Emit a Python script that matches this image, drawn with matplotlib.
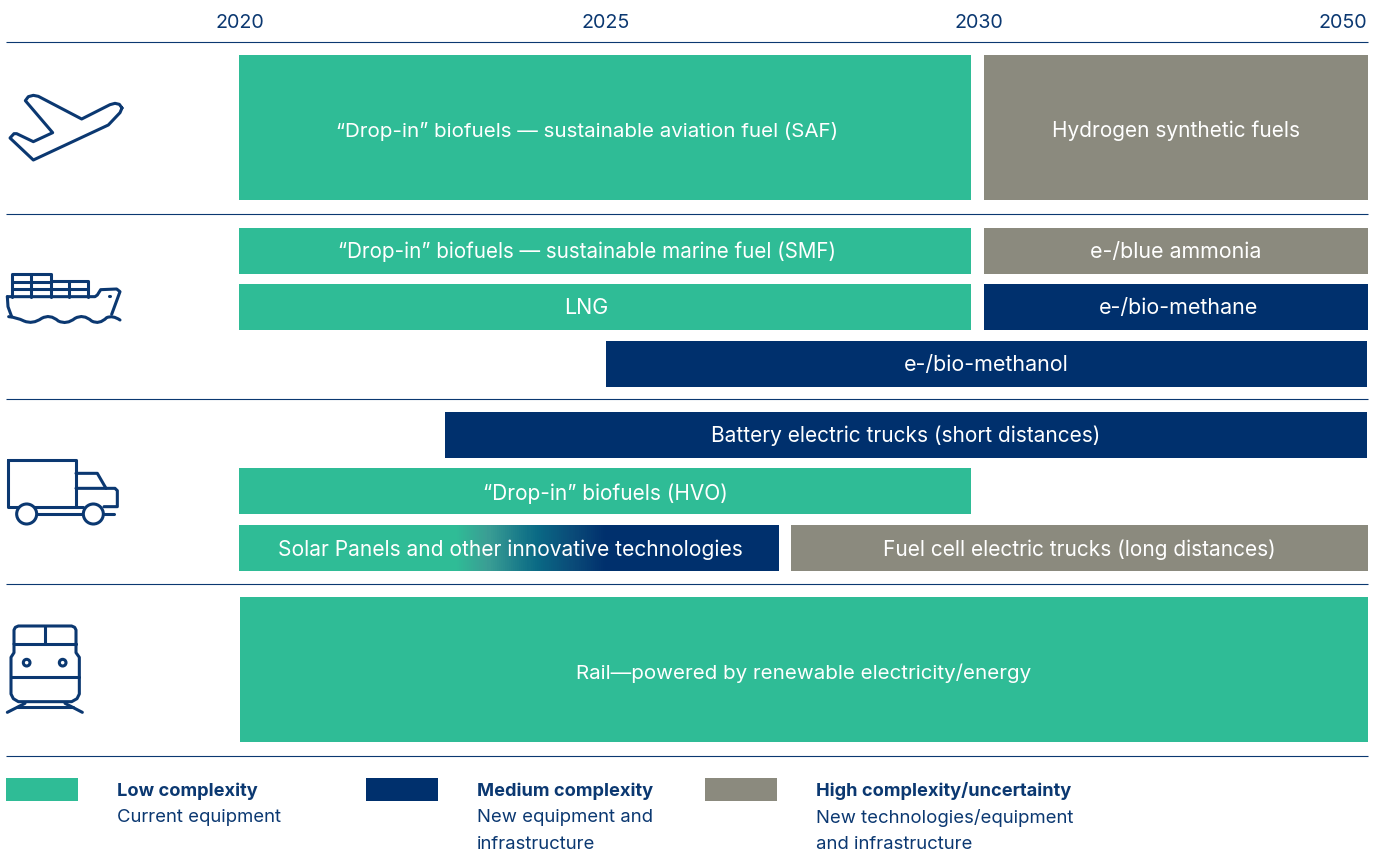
import numpy as np
import matplotlib
matplotlib.use("Agg")
import matplotlib.pyplot as plt
from matplotlib.colors import LinearSegmentedColormap
from matplotlib.patches import Circle, PathPatch
from matplotlib.path import Path
from matplotlib.transforms import ScaledTranslation

plt.rcParams['font.family'] = ['Inter', 'DejaVu Sans']

# ---------- data ----------
tick_years = [2020, 2025, 2030, 2050]
labels = ['“Drop-in” biofuels — sustainable aviation fuel (SAF)', 'Hydrogen synthetic fuels',
          '“Drop-in” biofuels — sustainable marine fuel (SMF)', 'e-/blue ammonia',
          'LNG', 'e-/bio-methane', 'e-/bio-methanol',
          'Battery electric trucks (short distances)', '“Drop-in” biofuels (HVO)',
          'Solar Panels and other innovative technologies', 'Fuel cell electric trucks (long distances)',
          'Rail—powered by renewable electricity/energy']
starts = [2020, 2030.65, 2020, 2030.65, 2020, 2030.65, 2025, 2022.8, 2020, 2020, 2027.53, 2020.02]
ends = [2030, 2050, 2030, 2050, 2030, 2050, 2049.95, 2049.95, 2030, 2027.37, 2050, 2050]
levels = ['low', 'high', 'low', 'high', 'low', 'medium', 'medium', 'medium', 'low', 'gradient', 'high', 'low']
legend_titles = ['Low complexity', 'Medium complexity', 'High complexity/uncertainty']
legend_lines = [['Current equipment'], ['New equipment and', 'infrastructure'],
                ['New technologies/equipment', 'and infrastructure']]

# ---------- layout / style ----------
W, H = 1383, 854
tops = [55, 55, 228, 228, 284, 284, 341, 412, 468, 525, 525, 597]
bots = [200, 200, 274, 274, 330, 330, 387, 458, 514, 571, 571, 742]
label_x = [587, 1176, 587, 1176, 586, 1178, 986, 906, 605, 510, 1079, 804]
label_y = [136, 136, 257, 257, 313, 313, 370, 441, 499, 555, 555, 678]
label_fs = [14.8, 15.0, 14.85, 15.4, 15.5, 15.45, 15.45, 15.05, 15.0, 15.1, 15.05, 14.8]
GREEN, NAVY, GRAY = '#2FBC96', '#00306D', '#8B8A7E'
INK = '#0B3871'
colors = {'low': GREEN, 'medium': NAVY, 'high': GRAY}
rules = [42, 214, 399, 584, 756]
LW = 2.2

yr_knots = np.array([2016.735, 2020, 2025, 2030, 2050, 2050.756])
px_knots = np.array([0, 239, 606, 971, 1368, 1383.0])

fig = plt.figure(figsize=(W / 100, H / 100), dpi=100, facecolor='white')
ax = fig.add_axes([0, 0, 1, 1])
ax.set_xscale('function', functions=(lambda v: np.interp(v, yr_knots, px_knots),
                                     lambda p: np.interp(p, px_knots, yr_knots)))
ax.set_xlim(yr_knots[0], yr_knots[-1])
ax.set_ylim(H - 1, -1)
ax.patch.set_alpha(0)
for s in ax.spines.values():
    s.set_visible(False)
ax.yaxis.set_visible(False)

# year ticks along the top
ax.xaxis.tick_top()
ax.set_xticks(tick_years, [str(y) for y in tick_years])
ax.xaxis.set_minor_locator(matplotlib.ticker.NullLocator())
ax.tick_params(axis='x', length=0, pad=-23, labelsize=14.2, labelcolor=INK)
tl = ax.get_xticklabels()
tl[3].set_ha('right')

# bars
grad = LinearSegmentedColormap.from_list('g', [(0, GREEN), (0.40, GREEN), (0.46, '#3A9E94'),
                                               (0.55, '#0A6A85'), (0.62, '#0A4A78'),
                                               (0.68, NAVY), (1, NAVY)])
for lab, a, b, t, bt, lv, lx, ly, fs in zip(labels, starts, ends, tops, bots, levels, label_x, label_y, label_fs):
    if lv == 'gradient':
        xe = np.interp(np.linspace(239, 779, 271), px_knots, yr_knots)
        px = np.linspace(0, 1, 270)
        ax.pcolormesh(xe, [t, bt], px[None, :], cmap=grad, vmin=0, vmax=1, shading='flat',
                      rasterized=True, linewidth=0, zorder=2)
    else:
        ax.barh((t + bt) / 2, b - a, left=a, height=bt - t, color=colors[lv], linewidth=0, zorder=2)
    ax.text(np.interp(lx, px_knots, yr_knots), ly, lab, color='white', fontsize=fs,
            ha='center', va='baseline', zorder=3)

# pixel overlay for rules, icons, legend
ov = fig.add_axes([0, 0, 1, 1])
ov.set_xlim(0, W)
ov.set_ylim(H - 1, -1)
ov.axis('off')
ov.patch.set_alpha(0)
for y in rules:
    ov.plot([6, 1368], [y - 0.3, y - 0.3], color=INK, lw=0.8, solid_capstyle='butt')

# small label nudges relative to their ticks
tl[0].set_transform(tl[0].get_transform() + ScaledTranslation(1 / 100, 0, fig.dpi_scale_trans))
tl[2].set_transform(tl[2].get_transform() + ScaledTranslation(8 / 100, 0, fig.dpi_scale_trans))
tl[3].set_transform(tl[3].get_transform() + ScaledTranslation(-1 / 100, 0, fig.dpi_scale_trans))

def stroke(pts, ox, oy, close=False, lw=LW):
    p = np.array(pts, float) / 3 + [ox, oy]
    if close:
        p = np.vstack([p, p[:1]])
    ov.plot(p[:, 0], p[:, 1], color=INK, lw=lw, solid_joinstyle='round', solid_capstyle='round')

def ring(cx, cy, r, ox, oy, lw=LW, fc='white'):
    ov.add_patch(Circle((cx / 3 + ox, cy / 3 + oy), r / 3, fc=fc, ec=INK, lw=lw, zorder=4))

# plane
stroke([(366, 84), (358, 73), (345, 70), (330, 74), (245, 117), (115, 49), (100, 46), (85, 50), (76, 62),
        (158, 158), (100, 185), (50, 161), (42, 161), (30, 174), (100, 240), (325, 135), (360, 98)],
       0, 80, close=True)
# ship
o = (0, 265)
stroke([(35, 95), (35, 27), (152, 27), (152, 95)], *o)
stroke([(152, 48), (265, 48), (265, 95)], *o)
stroke([(35, 50), (152, 50)], *o)
stroke([(35, 72), (265, 72)], *o)
stroke([(93, 27), (93, 95)], *o)
stroke([(208, 48), (208, 95)], *o)
stroke([(22, 95), (285, 95), (292, 90), (302, 74), (350, 72), (360, 80), (335, 148)], *o)
stroke([(22, 95), (24, 125), (35, 155)], *o)
wave = np.array([(26, 155), (50, 157), (72, 168), (98, 179), (125, 160), (150, 146), (175, 168), (200, 180),
                 (225, 160), (250, 146), (275, 168), (298, 180), (320, 158), (338, 150), (360, 165)], float) / 3 + o
codes = [Path.MOVETO] + [Path.CURVE3] * (len(wave) - 1)
ov.add_patch(PathPatch(Path(wave, codes), fc='none', ec=INK, lw=LW, capstyle='round'))
stroke([(326, 94), (331, 94)], *o)
# truck
o = (0, 450)
stroke([(24, 30), (228, 30), (228, 170), (24, 170)], *o, close=True)
stroke([(228, 70), (292, 70), (318, 115)], *o)
stroke([(228, 115), (345, 115), (352, 122), (352, 170), (312, 170)], *o)
stroke([(228, 170), (250, 170)], *o)
stroke([(110, 192), (250, 192)], *o)
stroke([(312, 192), (343, 192)], *o)
ring(80, 192, 30, *o)
ring(280, 192, 30, *o)
# train
o = (0, 620)
stroke([(42, 72), (42, 30), (46, 22), (55, 18), (215, 18), (224, 22), (228, 30), (228, 72)], *o)
stroke([(42, 72), (228, 72)], *o)
stroke([(135, 18), (135, 72)], *o)
stroke([(42, 72), (42, 98), (33, 112), (33, 222), (40, 236), (55, 245), (215, 245), (231, 236), (238, 222),
        (238, 112), (228, 98), (228, 72)], *o)
stroke([(33, 172), (238, 172)], *o)
ring(80, 128, 10, *o)
ring(188, 128, 10, *o)
stroke([(75, 250), (22, 277)], *o)
stroke([(195, 250), (247, 277)], *o)
stroke([(52, 262), (218, 262)], *o)

# legend
sw_x = [6, 366, 705]
tx_x = [117, 477, 816]
for x, tx, c, title, lines in zip(sw_x, tx_x, [GREEN, NAVY, GRAY], legend_titles, legend_lines):
    ov.fill_between([x, x + 72], 778, 801, color=c, linewidth=0)
    ov.text(tx, 790, title, color=INK, fontsize=13.15, fontweight='bold', va='center')
    for i, line in enumerate(lines):
        ov.text(tx, 817 + 27 * i, line, color=INK, fontsize=13.35, va='center')

fig.savefig('out.png', dpi=100, facecolor='white')
